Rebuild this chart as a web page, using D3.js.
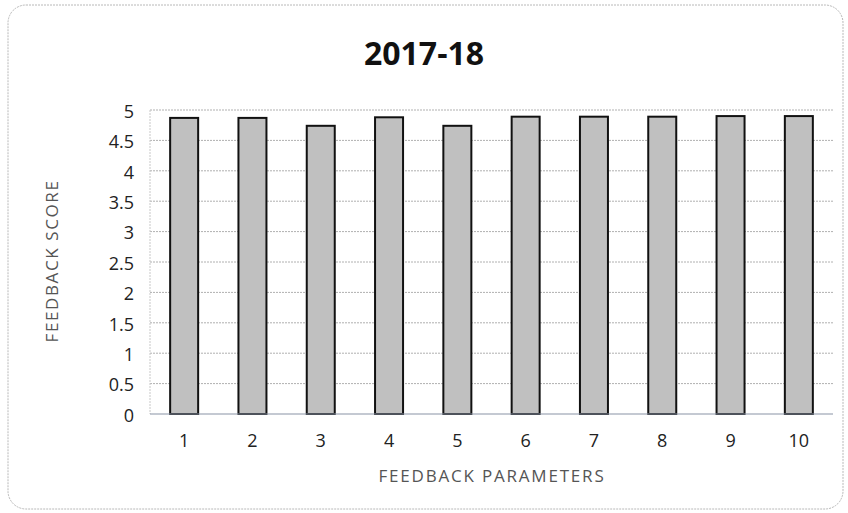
<!DOCTYPE html>
<html><head><meta charset="utf-8">
<script src="https://cdn.jsdelivr.net/npm/d3@7"></script>
<style>body{margin:0;background:#fff}svg{display:block}</style>
</head><body>
<script>
const categories = ["1","2","3","4","5","6","7","8","9","10"];
const scores = [4.87, 4.87, 4.74, 4.88, 4.74, 4.89, 4.89, 4.89, 4.90, 4.90];
const yTicks = [0,0.5,1,1.5,2,2.5,3,3.5,4,4.5,5];
const title = "2017-18";
const yTitle = "FEEDBACK SCORE";
const xTitle = "FEEDBACK PARAMETERS";

const W = 848, H = 513;
const m = {left:150, right:15, top:110, bottom:99};
const svg = d3.select("body").append("svg").attr("width",W).attr("height",H);

svg.append("rect").attr("x",8).attr("y",5).attr("width",835).attr("height",504)
  .attr("rx",18).attr("fill","#fff").attr("stroke","#b8b8b8").attr("stroke-width",1)
  .attr("stroke-dasharray","2,1");

const x = d3.scaleBand().domain(categories).range([m.left, W-m.right]).paddingInner(0.59).paddingOuter(0.295);
const y = d3.scaleLinear().domain([0,5]).range([H-m.bottom, m.top]);

// gridlines
svg.append("g").selectAll("line").data(yTicks.filter(d=>d>0)).join("line")
  .attr("x1",m.left).attr("x2",W-m.right).attr("y1",d=>y(d)).attr("y2",d=>y(d))
  .attr("stroke","#b0b0b0").attr("stroke-width",1).attr("stroke-dasharray","2,1");
svg.append("line").attr("x1",m.left).attr("x2",m.left).attr("y1",y(5)).attr("y2",y(0))
  .attr("stroke","#c8c8c8").attr("stroke-dasharray","2,1");

// bars
svg.append("g").selectAll("rect").data(scores).join("rect")
  .attr("x",(d,i)=>x(categories[i])).attr("width",x.bandwidth())
  .attr("y",d=>y(d)).attr("height",d=>y(0)-y(d))
  .attr("fill","#c0c0c0").attr("stroke","#111").attr("stroke-width",2);

// baseline
svg.append("line").attr("x1",m.left).attr("x2",W-m.right).attr("y1",y(0)).attr("y2",y(0))
  .attr("stroke","#8a93a6").attr("stroke-width",1.2);

const font = "'Open Sans', sans-serif";
// y axis
const ya = svg.append("g").attr("transform",`translate(${m.left},0)`)
  .call(d3.axisLeft(y).tickValues(yTicks).tickSize(0).tickPadding(16).tickFormat(d=>String(d)));
ya.select(".domain").remove();
ya.selectAll("text").attr("font-family",font).attr("font-size",18).attr("fill","#222").attr("dy","0.4em");

// x axis
const xa = svg.append("g").attr("transform",`translate(0,${y(0)})`)
  .call(d3.axisBottom(x).tickSize(0).tickPadding(20));
xa.select(".domain").remove();
xa.selectAll("text").attr("font-family",font).attr("font-size",18).attr("fill","#222");

// titles
svg.append("text").attr("x",424).attr("y",65).attr("text-anchor","middle")
  .attr("font-family",font).attr("font-weight","bold").attr("font-size",32).attr("fill","#111").text(title);
svg.append("text").attr("transform",`translate(58,${(y(0)+y(5))/2 - 1}) rotate(-90)`).attr("text-anchor","middle")
  .attr("font-family",font).attr("font-size",17).attr("letter-spacing","1.6px").attr("fill","#555").text(yTitle);
svg.append("text").attr("x",492).attr("y",482).attr("text-anchor","middle")
  .attr("font-family",font).attr("font-size",17).attr("letter-spacing","1.8px").attr("fill","#555").text(xTitle);
</script>
</body></html>
